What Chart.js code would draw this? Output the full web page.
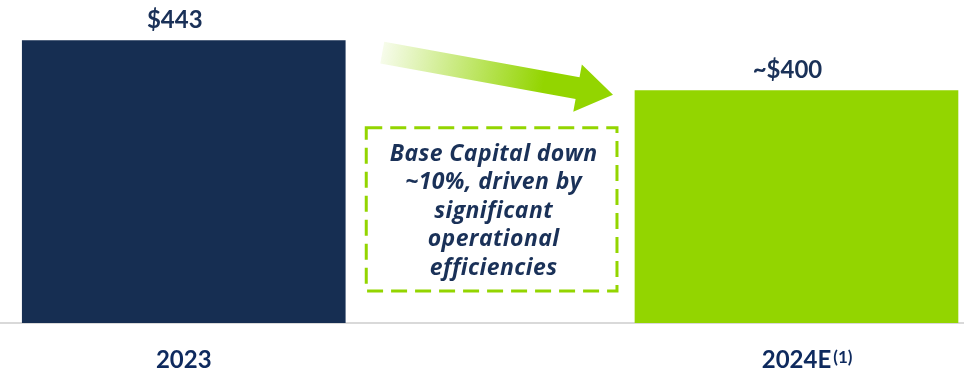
<!DOCTYPE html>
<html>
<head>
<meta charset="utf-8">
<script src="https://cdn.jsdelivr.net/npm/chart.js@4.4.1/dist/chart.umd.min.js"></script>
<style>
  html, body { margin: 0; padding: 0; background: #fff; }
  #wrap { width: 964px; height: 373px; position: relative; }
</style>
</head>
<body>
<div id="wrap"><canvas id="capChart"></canvas></div>
<script>
// Base capital, $ millions
const years = ['2023', '2024E'];
const baseCapital = [443, 400];
const valuePrefix = ['', '~'];
const footnotes = ['', '(1)'];
const barColors = ['#162E52', '#93D500'];
const noteLines = [
    'Base Capital down',
    '~10%, driven by',
    'significant',
    'operational',
    'efficiencies'
];

const NAVY = '#1A3158';
const GREEN = '#93D500';

// Libellés de valeur au-dessus des barres
const valueLabels = {
    id: 'valueLabels',
    afterDatasetsDraw(chart) {
        const ctx = chart.ctx;
        const bars = chart.getDatasetMeta(0).data;
        ctx.save();
        ctx.font = 'bold 24px Lato';
        ctx.fillStyle = NAVY;
        ctx.textAlign = 'center';
        ctx.textBaseline = 'alphabetic';
        bars.forEach((bar, i) => {
            ctx.fillText(valuePrefix[i] + '$' + baseCapital[i], bar.x - 9, bar.y - 13);
        });
        ctx.restore();
    }
};

// Flèche dégradée + encadré pointillé entre les deux barres
const callout = {
    id: 'callout',
    afterDatasetsDraw(chart) {
        const ctx = chart.ctx;
        const bars = chart.getDatasetMeta(0).data;
        const b1 = bars[0], b2 = bars[1];
        const r1 = b1.x + b1.width / 2;
        const l2 = b2.x - b2.width / 2;
        const base = chart.scales.y.bottom;

        // flèche
        const tx = r1 + 37, ty = b1.y + 12;
        const hx = l2 - 22, hy = b2.y + 4;
        const len = Math.hypot(hx - tx, hy - ty);
        const ux = (hx - tx) / len, uy = (hy - ty) / len;
        const nx = -uy, ny = ux;
        const shaft = 11, head = 24, headLen = 36;
        const bx = hx - ux * headLen, by = hy - uy * headLen;
        const grad = ctx.createLinearGradient(tx, ty, hx, hy);
        grad.addColorStop(0, 'rgba(147,213,0,0.08)');
        grad.addColorStop(0.7, 'rgba(147,213,0,1)');
        grad.addColorStop(1, 'rgba(147,213,0,1)');
        ctx.save();
        ctx.fillStyle = grad;
        ctx.beginPath();
        ctx.moveTo(tx - nx * shaft, ty - ny * shaft);
        ctx.lineTo(bx - nx * shaft, by - ny * shaft);
        ctx.lineTo(bx - nx * head, by - ny * head);
        ctx.lineTo(hx, hy);
        ctx.lineTo(bx + nx * head, by + ny * head);
        ctx.lineTo(bx + nx * shaft, by + ny * shaft);
        ctx.lineTo(tx + nx * shaft, ty + ny * shaft);
        ctx.closePath();
        ctx.fill();

        // encadré
        const left = r1 + 21, right = l2 - 18;
        const top = b2.y + 37, bottom = base - 32;
        ctx.strokeStyle = GREEN;
        ctx.lineWidth = 3;
        ctx.setLineDash([16, 8]);
        ctx.strokeRect(left, top, right - left, bottom - top);
        ctx.setLineDash([]);

        ctx.font = 'italic bold 23px "Open Sans"';
        ctx.letterSpacing = '0.4px';
        ctx.fillStyle = NAVY;
        ctx.textAlign = 'center';
        ctx.textBaseline = 'alphabetic';
        const cx = (left + right) / 2 + 2;
        noteLines.forEach((line, i) => {
            ctx.fillText(line, cx, top + 33 + i * 28.5);
        });
        ctx.restore();
    }
};

// Renvoi "(1)" après le libellé d'axe
const footnoteMarks = {
    id: 'footnoteMarks',
    afterDraw(chart) {
        const ctx = chart.ctx;
        const x = chart.scales.x;
        ctx.save();
        years.forEach((year, i) => {
            if (!footnotes[i]) return;
            ctx.font = 'bold 24px Lato';
            const w = ctx.measureText(year).width;
            const px = x.getPixelForValue(i) + w / 2 + 2;
            ctx.font = 'bold 17px Lato';
            ctx.fillStyle = '#0E2A5E';
            ctx.textAlign = 'left';
            ctx.textBaseline = 'top';
            ctx.fillText(footnotes[i], px, 349);
        });
        ctx.restore();
    }
};

const ctx = document.getElementById('capChart').getContext('2d');
new Chart(ctx, {
    type: 'bar',
    data: {
        datasets: [{
            data: baseCapital.map((v, i) => ({ x: i, y: v })),
            backgroundColor: barColors,
            borderWidth: 0,
            barThickness: 323
        }]
    },
    options: {
        responsive: true,
        maintainAspectRatio: false,
        animation: false,
        layout: { padding: 0 },
        plugins: {
            legend: { display: false },
            tooltip: { enabled: false }
        },
        scales: {
            x: {
                type: 'linear',
                offset: false,
                min: -0.2999,
                max: 1.2734,
                grid: { display: false, drawTicks: false },
                border: { display: true, color: '#D9D9D9', width: 2 },
                afterBuildTicks: scale => { scale.ticks = years.map((y, i) => ({ value: i })); },
                afterFit: scale => { scale.height = 50; },
                ticks: {
                    autoSkip: false,
                    maxRotation: 0,
                    padding: 23,
                    color: '#0E2A5E',
                    font: { family: 'Lato', size: 24, weight: 'bold' },
                    callback: v => years[v]
                }
            },
            y: {
                display: false,
                min: 200,
                max: 478
            }
        }
    },
    plugins: [valueLabels, callout, footnoteMarks]
});
</script>
</body>
</html>
